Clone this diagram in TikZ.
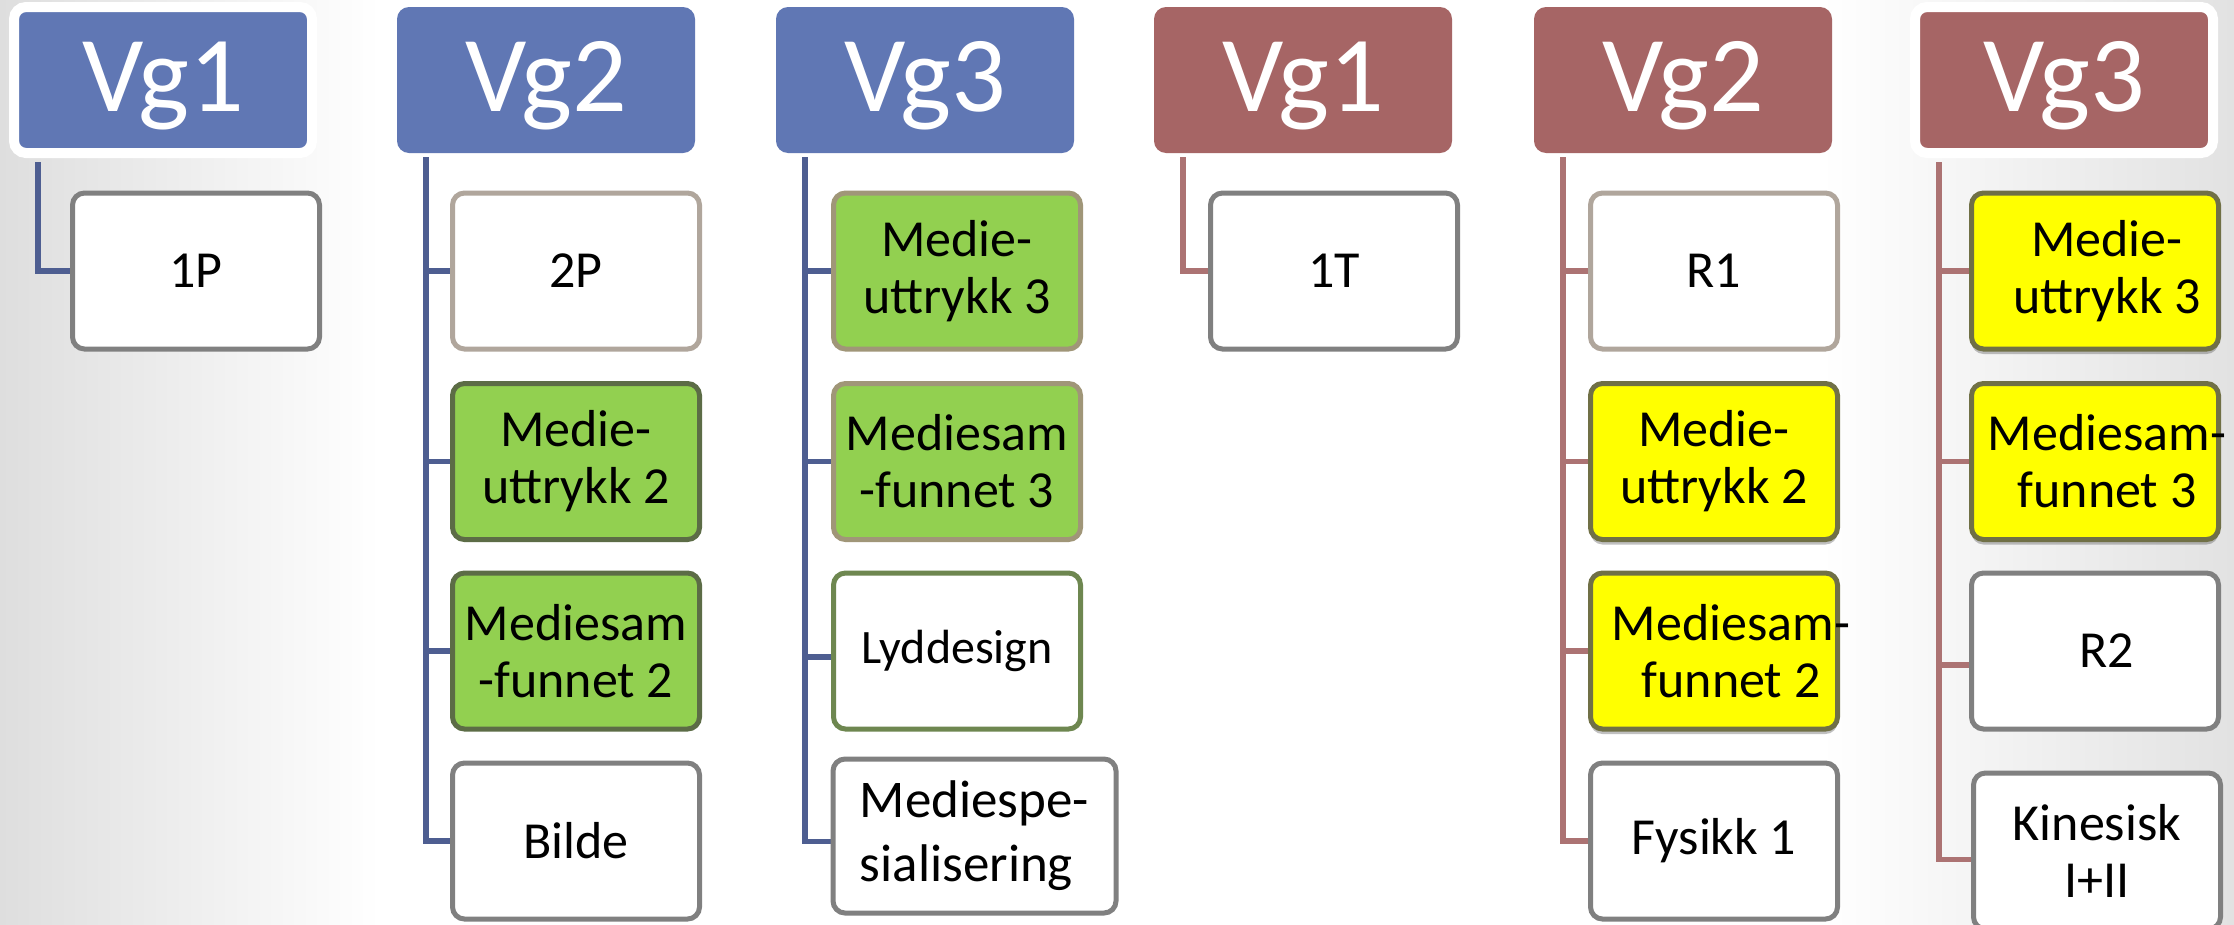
\documentclass[tikz,border=0pt]{standalone}
\usepackage{fontspec}
\setmainfont{Carlito}
\usetikzlibrary{shadows}
\definecolor{hdrB}{RGB}{96,119,180}
\definecolor{hdrR}{RGB}{166,101,101}
\definecolor{lnB}{RGB}{78,94,145}
\definecolor{lnR}{RGB}{172,115,115}
\definecolor{grn}{RGB}{146,208,80}
\definecolor{yel}{RGB}{255,255,0}
\definecolor{bdGrey}{RGB}{128,128,128}
\definecolor{bdTan}{RGB}{176,166,156}
\definecolor{bdGrn}{RGB}{92,108,70}
\definecolor{bdTanG}{RGB}{160,150,120}
\definecolor{bdYel}{RGB}{112,112,70}
\definecolor{bdLyd}{RGB}{110,135,80}
\definecolor{bgL}{RGB}{222,222,222}
\definecolor{bgR}{RGB}{226,226,226}
\pgfdeclarelayer{bg}
\pgfsetlayers{bg,main}
\begin{document}
\begin{tikzpicture}[x=1pt,y=-1pt,
  hdr/.style={rounded corners=12pt, minimum width=298pt, minimum height=146pt, inner sep=0pt,
    text=white, font=\fontsize{108}{116}\selectfont, text height=68pt, text depth=6pt},
  hdrb/.style={hdr, fill=hdrB},
  hdrr/.style={hdr, fill=hdrR},
  glow/.style={draw=white, line width=10pt},
  itemfont/.style={font=\fontsize{52}{57}\selectfont, align=center},
  item/.style={draw=bdGrey, fill=white, line width=5pt, rounded corners=12pt,
    minimum width=247pt, minimum height=156pt, inner sep=0pt, itemfont},
  tanitem/.style={item, draw=bdTan},
  grnitem/.style={item, fill=grn, draw=bdGrn},
  grntanitem/.style={item, fill=grn, draw=bdTanG},
  lyditem/.style={item, draw=bdLyd, font=\fontsize{48}{52}\selectfont},
  yelitem/.style={item, fill=yel, draw=bdYel,
    drop shadow={shadow xshift=0pt, shadow yshift=-5pt, opacity=0.35, fill=black!70}},
  lnb/.style={draw=lnB, line width=5.5pt},
  lnr/.style={draw=lnR, line width=5.5pt}
]
\useasboundingbox (0,0) rectangle (2234,924);

% headers
\node[hdrb, glow] (hb1) at (163,80) {Vg1};
\node[hdrb] (hb2) at (546,80) {Vg2};
\node[hdrb] (hb3) at (925,80) {Vg3};
\node[hdrr] (hr1) at (1303,80) {Vg1};
\node[hdrr] (hr2) at (1683,80) {Vg2};
\node[hdrr, glow] (hr3) at (2064,80) {Vg3};

% blue column 1
\node[item] (b11) at (196,271) {1P};
% blue column 2
\node[tanitem] (b21) at (576,271) {2P};
\node[grnitem] (b22) at (576,461.5) {Medie-\\uttrykk 2};
\node[grnitem] (b23) at (576,651) {Mediesam\\-funnet 2};
\node[item] (b24) at (576,841) {Bilde};
% blue column 3
\node[grntanitem] (b31) at (957,271) {Medie-\\uttrykk 3};
\node[grntanitem] (b32) at (957,461.5) {Mediesam\\-funnet 3};
\node[lyditem] (b33) at (957,651) {Lyddesign};
\node[item, minimum width=283pt, minimum height=154pt, align=left,
  font=\fontsize{53}{64}\selectfont] (b34) at (974.5,836) {Mediespe-\\sialisering};

% red column 1
\node[item] (r11) at (1334,271) {1T};
% red column 2
\node[tanitem] (r21) at (1714,271) {R1};
\node[yelitem] (r22) at (1714,461.5) {Medie-\\uttrykk 2};
\node[yelitem, label={[itemfont, xshift=17pt]center:{Mediesam-\\funnet 2}}] (r23) at (1714,651) {};
\node[item] (r24) at (1714,841) {Fysikk 1};
% red column 3
\node[yelitem, label={[itemfont, xshift=12pt]center:{Medie-\\uttrykk 3}}] (r31) at (2095,271) {};
\node[yelitem, label={[itemfont, xshift=12pt]center:{Mediesam-\\funnet 3}}] (r32) at (2095,461.5) {};
\node[item, label={[itemfont, xshift=12pt]center:{R2}}] (r33) at (2095,651) {};
\node[item] (r34) at (2097,851) {Kinesisk\\I+II};

\begin{pgfonlayer}{bg}
  \fill[white] (0,0) rectangle (2234,924);
  \shade[left color=bgL, right color=white] (0,0) rectangle (380,924);
  \shade[left color=white, right color=bgR] (1820,0) rectangle (2234,924);

  \coordinate (tb1) at ([xshift=29pt, yshift=-4pt]hb1.south west);
  \coordinate (tb2) at ([xshift=29pt, yshift=-4pt]hb2.south west);
  \coordinate (tb3) at ([xshift=29pt, yshift=-4pt]hb3.south west);
  \coordinate (tr1) at ([xshift=29pt, yshift=-4pt]hr1.south west);
  \coordinate (tr2) at ([xshift=29pt, yshift=-4pt]hr2.south west);
  \coordinate (tr3) at ([xshift=29pt, yshift=-4pt]hr3.south west);

  \draw[lnb] (tb1) |- (b11.west);

  \draw[lnb] (tb2) |- (b21.west);
  \draw[lnb] (tb2) |- (b22.west);
  \draw[lnb] (tb2) |- (b23.west);
  \draw[lnb] (tb2) |- (b24.west);

  \draw[lnb] (tb3) |- (b31.west);
  \draw[lnb] (tb3) |- (b32.west);
  \draw[lnb] (tb3) |- ([yshift=-6pt]b33.west);
  \draw[lnb] (tb3) |- ([yshift=-5.5pt]b34.west);

  \draw[lnr] (tr1) |- (r11.west);

  \draw[lnr] (tr2) |- (r21.west);
  \draw[lnr] (tr2) |- (r22.west);
  \draw[lnr] (tr2) |- (r23.west);
  \draw[lnr] (tr2) |- (r24.west);

  \draw[lnr] (tr3) |- (r31.west);
  \draw[lnr] (tr3) |- (r32.west);
  \draw[lnr] (tr3) |- ([yshift=-14pt]r33.west);
  \draw[lnr] (tr3) |- ([yshift=-8.5pt]r34.west);
\end{pgfonlayer}
\end{tikzpicture}
\end{document}
